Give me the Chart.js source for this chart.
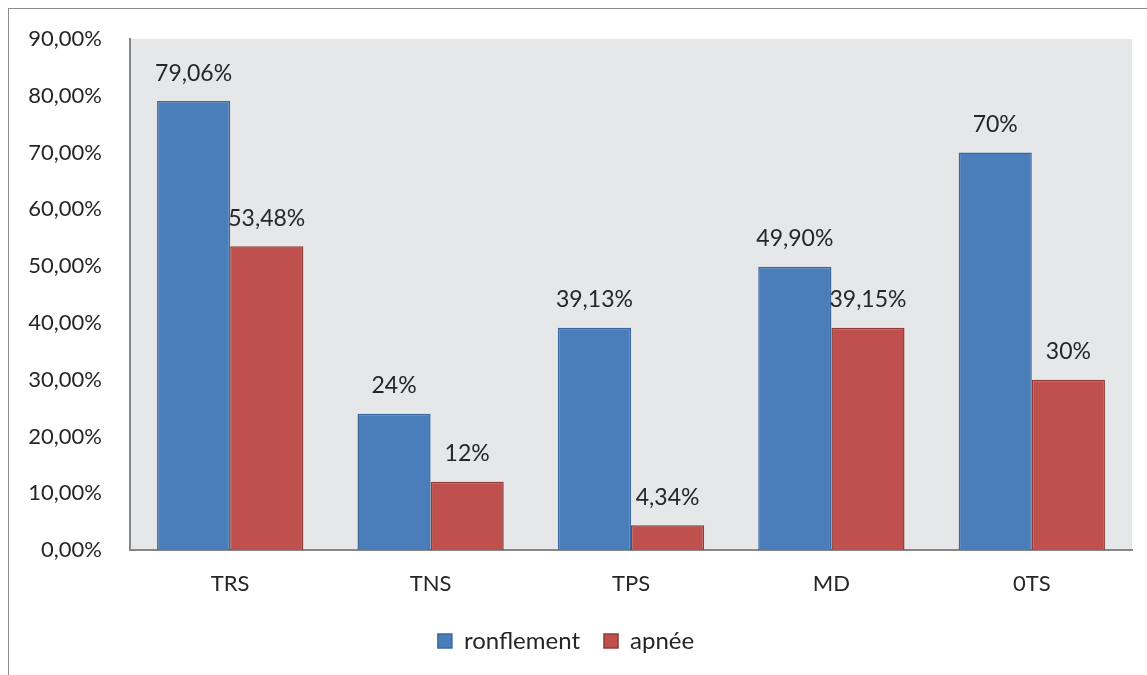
<!DOCTYPE html>
<html lang="fr">
  <head>
    <meta charset="UTF-8" />
    <title>ronflement / apnée</title>
    <script src="https://cdn.jsdelivr.net/npm/chart.js@4"></script>
    <style>
      body { margin: 0; background: #fff; }
      #frame {
        position: absolute; left: 8px; top: 8px;
        width: 1200px; height: 720px;
        border: 1.5px solid #8c8c8c;
      }
      #wrap { position: absolute; left: 0; top: 0; width: 1147px; height: 675px; }
    </style>
  </head>
  <body>
    <div id="frame"></div>
    <div id="wrap"><canvas id="myChart"></canvas></div>

    <script>
      const categories = ['TRS', 'TNS', 'TPS', 'MD', '0TS'];
      const ronflement = [79.06, 24, 39.13, 49.90, 70];
      const apnee = [53.48, 12, 4.34, 39.15, 30];
      const ronflementLabels = ['79,06%', '24%', '39,13%', '49,90%', '70%'];
      const apneeLabels = ['53,48%', '12%', '4,34%', '39,15%', '30%'];
      const yTicks = [0, 10, 20, 30, 40, 50, 60, 70, 80, 90];

      const FONT = 'Lato, "Open Sans", sans-serif';
      const TEXT = '#262626';

      // grey plot area behind the bars
      const plotBg = {
        id: 'plotBg',
        beforeDraw(chart) {
          const { ctx, chartArea: a } = chart;
          ctx.save();
          ctx.fillStyle = '#e6e7e9';
          ctx.fillRect(a.left, a.top, a.right - a.left, a.bottom - a.top);
          ctx.restore();
        }
      };

      // value labels above each bar
      const valueLabels = {
        id: 'valueLabels',
        afterDatasetsDraw(chart) {
          const ctx = chart.ctx;
          const texts = [ronflementLabels, apneeLabels];
          ctx.save();
          ctx.font = '23px ' + FONT;
          ctx.fillStyle = TEXT;
          ctx.textAlign = 'center';
          ctx.textBaseline = 'middle';
          chart.data.datasets.forEach((ds, i) => {
            chart.getDatasetMeta(i).data.forEach((bar, j) => {
              ctx.fillText(texts[i][j], bar.x, bar.y - 28);
            });
          });
          ctx.restore();
        }
      };

      const ctx = document.getElementById('myChart').getContext('2d');
      const myChart = new Chart(ctx, {
        type: 'bar',
        data: {
          labels: categories,
          datasets: [
            {
              label: 'ronflement',
              data: ronflement,
              backgroundColor: '#4a7ebb',
              borderColor: '#3a689e',
              borderWidth: 1.5,
              categoryPercentage: 0.73,
              barPercentage: 1
            },
            {
              label: 'apnée',
              data: apnee,
              backgroundColor: '#c0504d',
              borderColor: '#8e3b39',
              borderWidth: 1.5,
              categoryPercentage: 0.73,
              barPercentage: 1
            }
          ]
        },
        options: {
          responsive: true,
          maintainAspectRatio: false,
          animation: false,
          layout: { padding: { left: 0, right: 15, top: 39, bottom: 12 } },
          plugins: {
            tooltip: { enabled: false },
            legend: {
              position: 'bottom',
              labels: {
                color: TEXT,
                font: { family: FONT, size: 24 },
                boxWidth: 14,
                boxHeight: 14,
                padding: 24
              }
            }
          },
          scales: {
            x: {
              grid: { display: false, drawTicks: false },
              border: { color: '#868686', width: 2 },
              ticks: { color: TEXT, font: { family: FONT, size: 22 }, padding: 21 },
              afterFit(scale) { scale.height = 55; }
            },
            y: {
              min: 0,
              max: 90,
              afterBuildTicks(scale) { scale.ticks = yTicks.map(v => ({ value: v })); },
              grid: { display: false, drawTicks: false },
              border: { color: '#868686', width: 2 },
              ticks: {
                color: TEXT,
                font: { family: FONT, size: 22 },
                padding: 28,
                callback: v => v.toFixed(2).replace('.', ',') + '%'
              },
              afterFit(scale) {
                scale.width = 130;
                scale.paddingTop = 0;
                scale.paddingBottom = 0;
              }
            }
          }
        },
        plugins: [plotBg, valueLabels]
      });
    </script>
  </body>
</html>
